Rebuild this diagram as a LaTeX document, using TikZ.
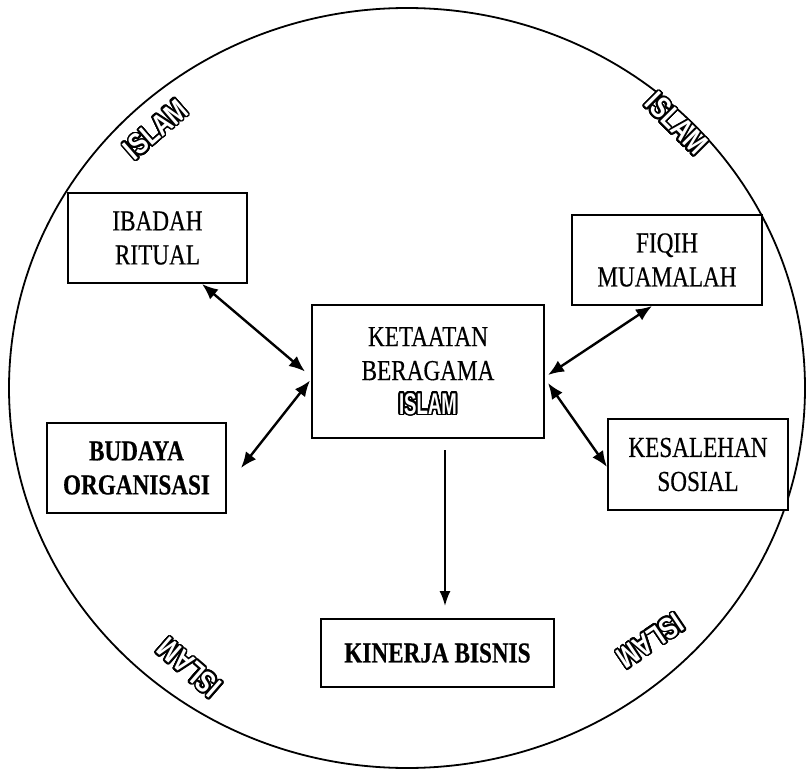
\documentclass[tikz,border=0pt]{standalone}
\usepackage{fontspec}
\setmainfont{Liberation Serif}[FakeStretch=0.8, FakeBold=0.4]
\newfontfamily\islamfont{Liberation Sans}[FakeStretch=0.78]
\newfontfamily\islamnarrow{Liberation Sans}[FakeStretch=0.62]
\usepackage{contour}
\contourlength{1.6pt}
\contournumber{32}
\usetikzlibrary{arrows.meta}
\pgfdeclarelayer{edgelayer}
\pgfdeclarelayer{nodelayer}
\pgfsetlayers{edgelayer,nodelayer,main}
\newcommand{\islamword}{\contour{black}{\textcolor{white}{\islamfont\bfseries ISLAM}}}
\newcommand{\islamboxword}{\contour{black}{\textcolor{white}{\islamnarrow\bfseries ISLAM}}}
\tikzstyle{none}=[inner sep=0pt]
\tikzstyle{box}=[rectangle, draw=black, line width=2pt, fill=white, align=center, inner sep=0pt, font=\fontsize{29}{34}\selectfont]
\tikzstyle{boldbox}=[box, font=\fontsize{29}{34}\selectfont\bfseries]
\tikzstyle{islam}=[inner sep=0pt, font=\fontsize{30}{30}\selectfont]
\tikzstyle{ring}=[draw=black, line width=1.8pt]
\tikzstyle{link}=[draw=black, line width=2.4pt, {Latex[length=16pt,width=13pt]}-{Latex[length=16pt,width=13pt]}]
\tikzstyle{down}=[draw=black, line width=1.8pt, -{Latex[length=15pt,width=11pt]}]

\begin{document}
\begin{tikzpicture}[x=1pt, y=-1pt]
			\useasboundingbox (0, 0) rectangle (806, 770);
			\begin{pgfonlayer}{nodelayer}
			\node [style=box, minimum width=179pt, minimum height=90pt] (0) at (157.5, 238) {IBADAH\\RITUAL};
			\node [style=box, minimum width=190pt, minimum height=90pt] (1) at (667, 260) {FIQIH\\MUAMALAH};
			\node [style=box, minimum width=232pt, minimum height=133pt] (2) at (428, 371.5) {KETAATAN\\BERAGAMA\\\fontsize{30}{30}\selectfont\islamboxword};
			\node [style=boldbox, minimum width=179pt, minimum height=90pt] (3) at (136.5, 468) {BUDAYA\\ORGANISASI};
			\node [style=box, minimum width=180pt, minimum height=91pt] (4) at (698, 464.5) {KESALEHAN\\SOSIAL};
			\node [style=boldbox, minimum width=233pt, minimum height=68pt] (5) at (437.5, 653) {KINERJA BISNIS};
			\node [style=islam, rotate=41] (6) at (156, 130) {\islamword};
			\node [style=islam, rotate=-45] (7) at (676, 124) {\islamword};
			\node [style=islam, rotate=139] (8) at (190, 667) {\islamword};
			\node [style=islam, rotate=-146] (9) at (650, 640) {\islamword};
			\end{pgfonlayer}
			\begin{pgfonlayer}{edgelayer}
			\draw [style=ring] (407, 388) ellipse [x radius=398pt, y radius=380pt];
			\draw [style=link] ([xshift=44.5pt]0.south) to ([xshift=-6pt]2.west);
			\draw [style=link] ([xshift=14pt]3.east) to ([shift={(-1pt,-9pt)}]2.west);
			\draw [style=link] ([xshift=-15pt]1.south) to ([shift={(3pt,-3.5pt)}]2.east);
			\draw [style=link] ([yshift=-2.5pt]4.west) to ([shift={(3pt,-11.5pt)}]2.east);
			\draw [style=down] ([shift={(17pt,-11pt)}]2.south) to ([shift={(7.5pt,12pt)}]5.north);
			\end{pgfonlayer}
			\end{tikzpicture}
\end{document}
